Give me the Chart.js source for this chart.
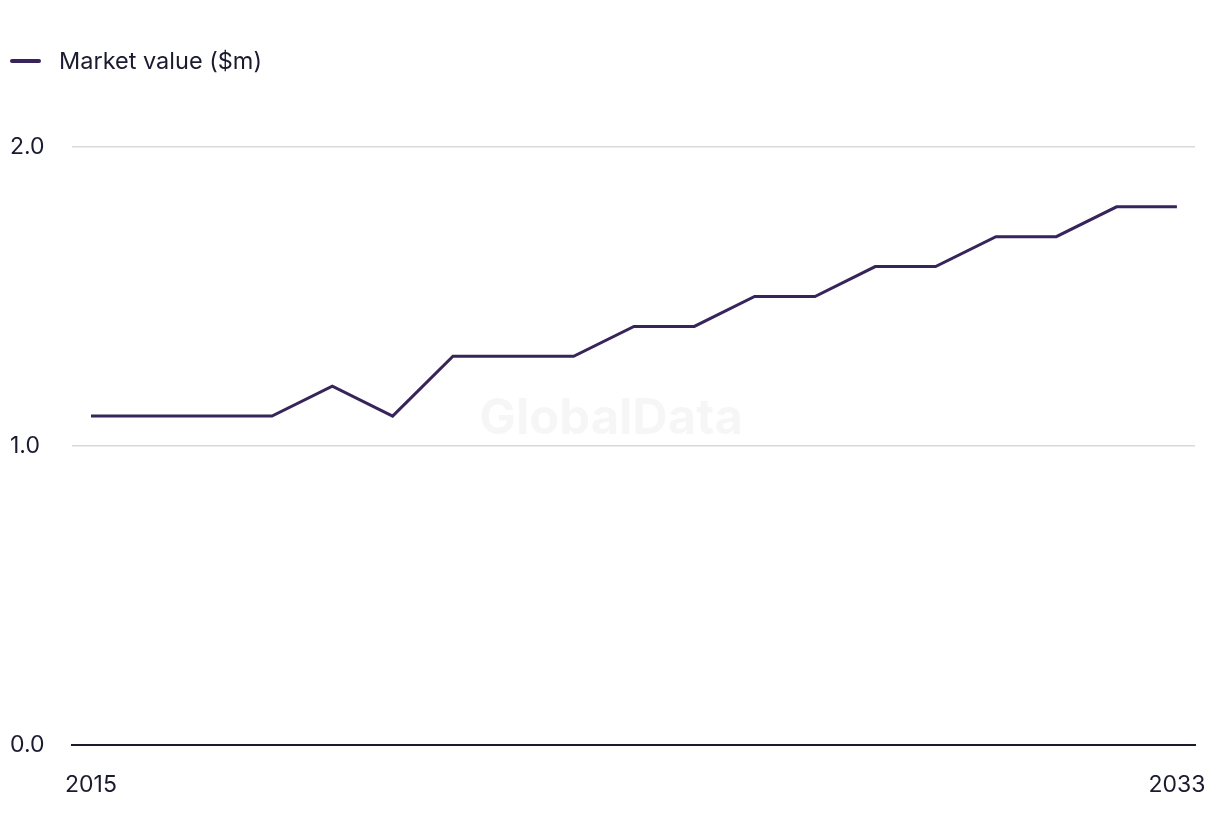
<!DOCTYPE html>
<html>
<head>
<meta charset="utf-8">
<script src="https://cdn.jsdelivr.net/npm/chart.js@4.4.1/dist/chart.umd.min.js"></script>
<style>
    html, body { margin: 0; padding: 0; background: #ffffff; }
    #wrap { position: relative; width: 1220px; height: 836px; }
    #legend {
        position: absolute; left: 10px; top: 46px;
        font-family: Inter, "Noto Sans", sans-serif; font-size: 23.5px; color: #1b1b2f;
        display: flex; align-items: center; line-height: 30px;
    }
    #legend .swatch { width: 31px; height: 4px; border-radius: 2px; background: #36245a; margin-right: 18px; }
</style>
</head>
<body>
<div id="wrap">
    <canvas id="chart" width="1220" height="836"></canvas>
    <div id="legend"><span class="swatch"></span><span>Market value ($m)</span></div>
</div>
<script>
const years = [2015, 2016, 2017, 2018, 2019, 2020, 2021, 2022, 2023, 2024,
               2025, 2026, 2027, 2028, 2029, 2030, 2031, 2032, 2033];
const marketValue = [1.1, 1.1, 1.1, 1.1, 1.2, 1.1, 1.3, 1.3, 1.3, 1.4,
                     1.4, 1.5, 1.5, 1.6, 1.6, 1.7, 1.7, 1.8, 1.8];
const xTickLabels = [2015, 2033];
const yTickValues = [0, 1, 2];

const textColor = "#1b1b2f";
const fontFamily = "Inter, 'Noto Sans', sans-serif";

const watermark = {
    id: "watermark",
    beforeDatasetsDraw(chart) {
        const { ctx } = chart;
        ctx.save();
        ctx.font = "bold 49px " + fontFamily;
        ctx.fillStyle = "rgba(0,0,0,0.035)";
        ctx.textAlign = "center";
        ctx.textBaseline = "middle";
        ctx.fillText("GlobalData", 611, 419);
        ctx.restore();
    }
};

new Chart(document.getElementById("chart"), {
    type: "line",
    plugins: [watermark],
    data: {
        datasets: [{
            label: "Market value ($m)",
            data: years.map((y, i) => ({ x: y, y: marketValue[i] })),
            borderColor: "#36245a",
            borderWidth: 3,
            pointRadius: 0,
            tension: 0,
            fill: false,
        }],
    },
    options: {
        responsive: false,
        animation: false,
        layout: { padding: { top: 147, left: 10, right: 25, bottom: 41 } },
        plugins: {
            legend: { display: false },
            tooltip: { enabled: false },
        },
        scales: {
            x: {
                type: "linear",
                min: 2014.685,
                max: 2033.3,
                afterBuildTicks: (scale) => { scale.ticks = xTickLabels.map(v => ({ value: v })); },
                afterFit: (scale) => {
                    scale.height = 50;
                    scale.paddingLeft = 0;
                    scale.paddingRight = 0;
                },
                grid: { display: false },
                border: { display: true, color: textColor, width: 2 },
                ticks: {
                    color: textColor,
                    font: { family: fontFamily, size: 23 },
                    padding: 18,
                    maxRotation: 0,
                    callback: (v) => String(v),
                },
            },
            y: {
                min: 0,
                max: 2,
                afterBuildTicks: (scale) => { scale.ticks = yTickValues.map(v => ({ value: v })); },
                afterFit: (scale) => { scale.width = 62; },
                grid: {
                    color: (c) => c.tick && c.tick.value === 0 ? "rgba(0,0,0,0)" : "#d9d9d9",
                    lineWidth: 1.5,
                    drawTicks: false,
                },
                border: { display: false },
                ticks: {
                    color: textColor,
                    font: { family: fontFamily, size: 23 },
                    crossAlign: "far",
                    callback: (v) => v.toFixed(1),
                },
            },
        },
    },
});
</script>
</body>
</html>
